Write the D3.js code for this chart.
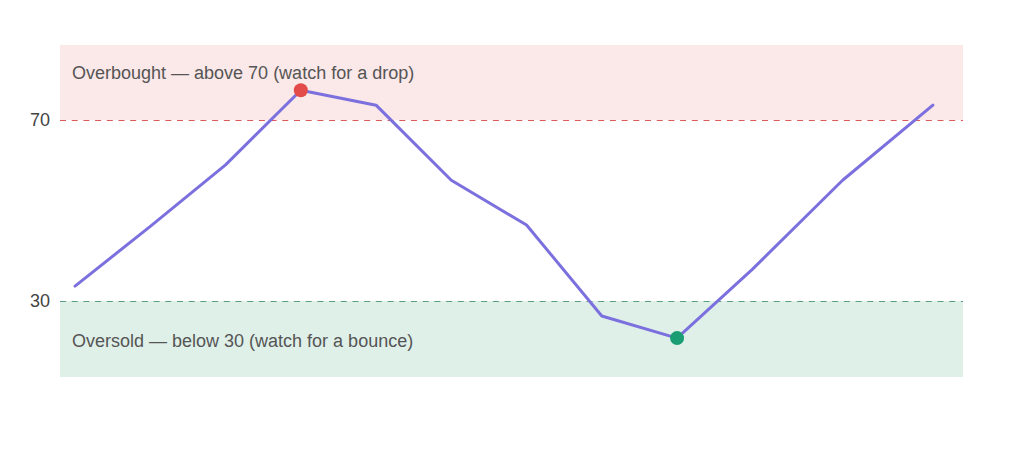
<!DOCTYPE html>
<html>
<head>
<meta charset="utf-8">
<script src="https://cdn.jsdelivr.net/npm/d3@7"></script>
<style>
  html, body { margin: 0; padding: 0; background: #fff; }
  svg { display: block; font-family: "Liberation Sans", Arial, Helvetica, sans-serif; }
</style>
</head>
<body>
<svg id="chart" width="1024" height="452"></svg>
<script>
// ---- data ----
const days = [0, 10, 20, 30, 40, 50, 60, 70, 80, 90, 102, 114];
const rsi  = [33.3, 46.5, 60.1, 76.6, 73.3, 56.7, 46.8, 26.7, 21.8, 37.0, 56.7, 73.3];
const yTicks = [30, 70];
const overbought = 70;
const oversold = 30;
const yMin = 13.2, yMax = 86.6;
const xMin = -2, xMax = 118;
const overboughtLabel = "Overbought \u2014 above 70 (watch for a drop)";
const oversoldLabel = "Oversold \u2014 below 30 (watch for a bounce)";

// ---- layout ----
const margin = { left: 60, right: 61, top: 45, bottom: 75 };
const W = 1024, H = 452;
const svg = d3.select("#chart");

const x = d3.scaleLinear().domain([xMin, xMax]).range([margin.left, W - margin.right]);
const y = d3.scaleLinear().domain([yMin, yMax]).range([H - margin.bottom, margin.top]);
const crisp = v => Math.round(v) + 0.5;

// bands
svg.append("rect")
  .attr("x", x(xMin)).attr("width", x(xMax) - x(xMin))
  .attr("y", y(yMax)).attr("height", y(overbought) - y(yMax))
  .attr("fill", "#fbe8e8");
svg.append("rect")
  .attr("x", x(xMin)).attr("width", x(xMax) - x(xMin))
  .attr("y", y(oversold)).attr("height", y(yMin) - y(oversold))
  .attr("fill", "#dff0e9");

// threshold lines
svg.append("line")
  .attr("x1", x(xMin)).attr("x2", x(xMax))
  .attr("y1", crisp(y(overbought))).attr("y2", crisp(y(overbought)))
  .attr("stroke", "#dc5a5a").attr("stroke-width", 1)
  .attr("stroke-dasharray", "6,5.7");
svg.append("line")
  .attr("x1", x(xMin)).attr("x2", x(xMax))
  .attr("y1", crisp(y(oversold))).attr("y2", crisp(y(oversold)))
  .attr("stroke", "#5a9d82").attr("stroke-width", 1)
  .attr("stroke-dasharray", "6,5.7");

// y axis (labels only)
const yAxis = d3.axisLeft(y).tickValues(yTicks).tickSize(0).tickPadding(10);
const gy = svg.append("g").attr("transform", `translate(${margin.left},0)`).call(yAxis);
gy.select(".domain").remove();
gy.selectAll("text").attr("font-size", 18).attr("fill", "#444")
  .attr("font-family", "'Liberation Sans', Arial, Helvetica, sans-serif");

// band labels
svg.append("text")
  .attr("x", x(xMin) + 12).attr("y", y(yMax) + 34)
  .attr("font-size", 18).attr("fill", "#555")
  .text(overboughtLabel);
svg.append("text")
  .attr("x", x(xMin) + 12).attr("y", y(oversold) + 46)
  .attr("font-size", 18).attr("fill", "#555")
  .text(oversoldLabel);

// line
const pts = days.map((d, i) => ({ d, v: rsi[i] }));
const line = d3.line().x(p => x(p.d)).y(p => y(p.v));
svg.append("path")
  .datum(pts)
  .attr("d", line)
  .attr("fill", "none")
  .attr("stroke", "#7b70de")
  .attr("stroke-width", 3)
  .attr("stroke-linejoin", "round")
  .attr("stroke-linecap", "round");

// extremes
const maxP = pts.reduce((a, b) => (b.v > a.v ? b : a));
const minP = pts.reduce((a, b) => (b.v < a.v ? b : a));
svg.append("circle").attr("cx", x(maxP.d)).attr("cy", y(maxP.v)).attr("r", 7).attr("fill", "#e34b4b");
svg.append("circle").attr("cx", x(minP.d)).attr("cy", y(minP.v)).attr("r", 7).attr("fill", "#1b9d74");
</script>
</body>
</html>
